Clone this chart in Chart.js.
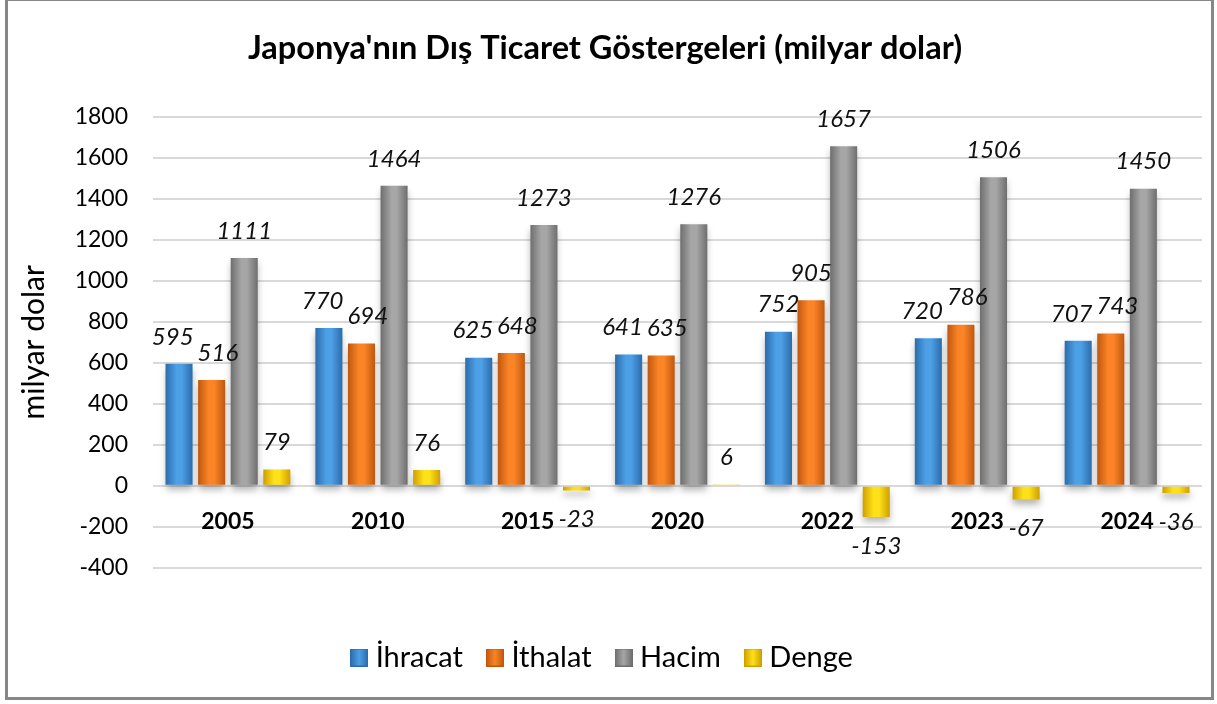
<!DOCTYPE html>
<html lang="tr">
  <head>
    <meta charset="UTF-8" />
    <title>Japonya'nın Dış Ticaret Göstergeleri</title>
    <script src="https://cdn.jsdelivr.net/npm/chart.js"></script>
    <style>
      html,
      body {
        margin: 0;
        padding: 0;
        background: #ffffff;
      }

      .wrap {
        position: relative;
        width: 1217px;
        height: 704px;
      }

      .frame {
        position: absolute;
        left: 5px;
        top: -2px;
        width: 1209px;
        height: 702px;
        border: 3px solid #878787;
        box-sizing: border-box;
        pointer-events: none;
      }
    </style>
  </head>
  <body>
    <div class="wrap">
      <canvas id="tradeChart" width="1217" height="704"></canvas>
      <div class="frame"></div>
    </div>

    <script>
      // data (milyar dolar)
      const years = ["2005", "2010", "2015", "2020", "2022", "2023", "2024"];
      const ihracat = [595, 770, 625, 641, 752, 720, 707];
      const ithalat = [516, 694, 648, 635, 905, 786, 743];
      const hacim = [1111, 1464, 1273, 1276, 1657, 1506, 1450];
      const denge = [79, 76, -23, 6, -153, -67, -36];
      const yMin = -400;
      const yMax = 1800;
      const yStep = 200;

      const FONT = "Lato, 'Open Sans', sans-serif";
      const CAT_PCT = 0.87;
      const BAR_PCT = 0.83;

      // base / edge colours for the bevelled bars
      const palette = [
        { base: "#4d9fe6", edge: "#2b6cab" },
        { base: "#fb8526", edge: "#c0570f" },
        { base: "#a6a6a6", edge: "#6e6e6e" },
        { base: "#ffe11a", edge: "#cf9f00" },
      ];

      function barFill(idx) {
        const col = palette[idx];
        return function (c) {
          const chart = c.chart;
          const xs = chart.scales.x;
          if (!xs || c.dataIndex === undefined || !chart.chartArea) {
            return col.base;
          }
          const slot = ((xs.width / years.length) * CAT_PCT) / 4;
          const cx = xs.getPixelForValue(c.dataIndex) + (idx - 1.5) * slot;
          const half = (slot * BAR_PCT) / 2;
          const g = chart.ctx.createLinearGradient(cx - half, 0, cx + half, 0);
          g.addColorStop(0, col.edge);
          g.addColorStop(0.4, col.base);
          g.addColorStop(0.6, col.base);
          g.addColorStop(1, col.edge);
          return g;
        };
      }

      function swatch(idx) {
        const col = palette[idx];
        const cv = document.createElement("canvas");
        cv.width = 18;
        cv.height = 18;
        const x = cv.getContext("2d");
        const g = x.createLinearGradient(0, 0, 18, 0);
        g.addColorStop(0, col.edge);
        g.addColorStop(0.5, col.base);
        g.addColorStop(1, col.edge);
        x.fillStyle = g;
        x.fillRect(0, 0, 18, 18);
        x.strokeStyle = col.edge;
        x.lineWidth = 1;
        x.strokeRect(0.5, 0.5, 17, 17);
        return cv;
      }

      // soft drop shadow under the bars + italic value labels
      const barDecor = {
        id: "barDecor",
        beforeDatasetsDraw(chart) {
          const ctx = chart.ctx;
          ctx.save();
          ctx.shadowColor = "rgba(0,0,0,0.3)";
          ctx.shadowBlur = 7;
          ctx.shadowOffsetY = 5;
        },
        afterDatasetsDraw(chart) {
          const ctx = chart.ctx;
          ctx.restore();
          ctx.save();
          ctx.font = "italic 24px " + FONT;
          ctx.fillStyle = "#111";
          ctx.textAlign = "center";
          ctx.textBaseline = "middle";
          const h = 20;
          years.forEach((yr, j) => {
            // one label per bar, then nudge neighbours apart sideways
            const lbls = chart.data.datasets.map((ds, i) => {
              const bar = chart.getDatasetMeta(i).data[j];
              const v = ds.data[j];
              const txt = String(v);
              return {
                txt,
                x: bar.x,
                y: v < 0 ? bar.y + 29 : bar.y - 27,
                w: ctx.measureText(txt).width,
              };
            });
            for (let i = 0; i < lbls.length - 1; i++) {
              const a = lbls[i];
              const b = lbls[i + 1];
              if (Math.abs(a.y - b.y) >= h) continue;
              const gap = b.x - a.x - (a.w + b.w) / 2;
              if (gap < 4) {
                const d = (4 - gap) / 2;
                a.x -= d;
                b.x += d;
              }
            }
            lbls.forEach((l) => ctx.fillText(l.txt, l.x, l.y));
          });
          ctx.restore();
        },
      };

      new Chart(document.getElementById("tradeChart").getContext("2d"), {
        type: "bar",
        data: {
          labels: years,
          datasets: [
            { label: "İhracat", data: ihracat, backgroundColor: barFill(0) },
            { label: "İthalat", data: ithalat, backgroundColor: barFill(1) },
            { label: "Hacim", data: hacim, backgroundColor: barFill(2) },
            { label: "Denge", data: denge, backgroundColor: barFill(3) },
          ],
        },
        options: {
          responsive: false,
          animation: false,
          categoryPercentage: CAT_PCT,
          barPercentage: BAR_PCT,
          layout: { padding: { left: 8, right: 15, top: 0, bottom: 22 } },
          plugins: {
            title: {
              display: true,
              text: "Japonya'nın Dış Ticaret Göstergeleri (milyar dolar)",
              color: "#000",
              font: { family: FONT, size: 32.5, weight: "bold" },
              padding: { top: 29, bottom: 49 },
            },
            legend: {
              position: "bottom",
              title: { display: true, text: "", padding: { top: 31, bottom: 0 } },
              labels: {
                usePointStyle: true,
                pointStyleWidth: 4,
                boxHeight: 18,
                padding: 30,
                color: "#000",
                font: { family: FONT, size: 29 },
                generateLabels: (chart) =>
                  chart.data.datasets.map((ds, i) => ({
                    text: ds.label,
                    pointStyle: swatch(i),
                    fillStyle: palette[i].base,
                    strokeStyle: palette[i].edge,
                    lineWidth: 0,
                    fontColor: "#000",
                    hidden: false,
                    datasetIndex: i,
                  })),
              },
            },
            tooltip: { enabled: false },
          },
          scales: {
            x: {
              position: { y: 0 },
              grid: { display: false, drawTicks: false },
              border: { display: false },
              ticks: {
                color: "#000",
                padding: 22,
                font: { family: FONT, size: 23, weight: "bold" },
              },
            },
            y: {
              min: yMin,
              max: yMax,
              afterFit: (s) => {
                s.width = 145;
              },
              ticks: {
                stepSize: yStep,
                padding: 25,
                color: "#000",
                font: { family: FONT, size: 23 },
                callback: (v) => String(v),
              },
              grid: { color: "#d9d9d9", lineWidth: 2, drawTicks: false },
              border: { display: false },
              title: {
                display: true,
                text: "milyar dolar",
                color: "#000",
                padding: { top: 8, bottom: 0 },
                font: { family: FONT, size: 30 },
              },
            },
          },
        },
        plugins: [barDecor],
      });
    </script>
  </body>
</html>
